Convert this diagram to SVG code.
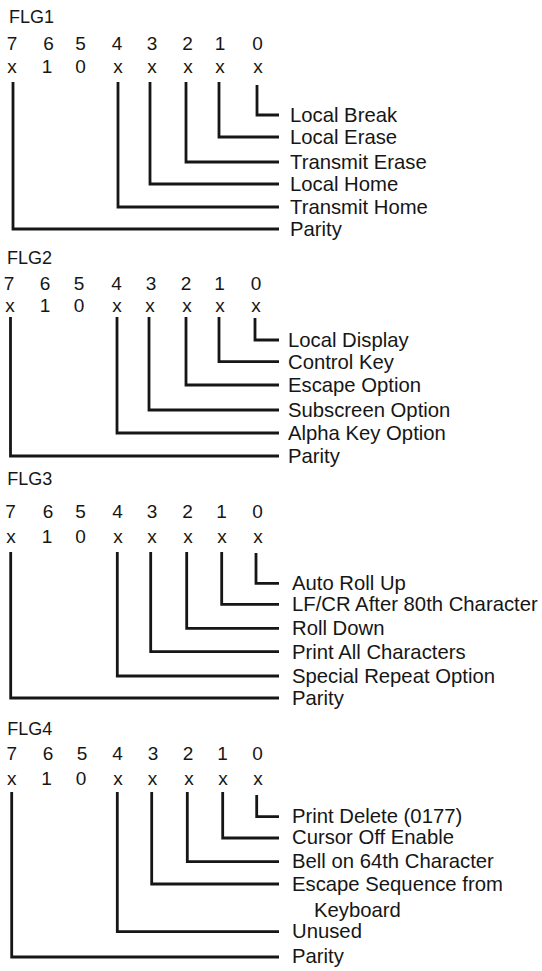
<svg xmlns="http://www.w3.org/2000/svg" width="542" height="971" viewBox="0 0 542 971">
<style>
text{font-family:"Liberation Sans",Arial,sans-serif;fill:#161616}
.t{font-size:18px}
.d{font-size:19px;text-anchor:middle}
.l{font-size:20.3px}
.c path{fill:none;stroke:#161616;stroke-width:2.8;stroke-linejoin:miter;stroke-linecap:butt}
</style>
<rect width="542" height="971" fill="#fff"/>

<g id="flg1">
<text class="t" x="9" y="23">FLG1</text>
<text class="d" y="50"><tspan x="12">7</tspan><tspan x="48.5">6</tspan><tspan x="80.5">5</tspan><tspan x="117">4</tspan><tspan x="152">3</tspan><tspan x="187.5">2</tspan><tspan x="220">1</tspan><tspan x="257.5">0</tspan></text>
<text class="d" y="73"><tspan x="12">x</tspan><tspan x="47">1</tspan><tspan x="80.5">0</tspan><tspan x="118">x</tspan><tspan x="152">x</tspan><tspan x="188">x</tspan><tspan x="220">x</tspan><tspan x="258">x</tspan></text>
</g>
<g id="flg1-labels">
<text class="l" x="290" y="121.5">Local Break</text>
<text class="l" x="290" y="143.5">Local Erase</text>
<text class="l" x="290" y="168.5">Transmit Erase</text>
<text class="l" x="290" y="190.5">Local Home</text>
<text class="l" x="290" y="213.5">Transmit Home</text>
<text class="l" x="290" y="235.5">Parity</text>
</g>

<g id="flg2">
<text class="t" x="7" y="263.5">FLG2</text>
<text class="d" y="290"><tspan x="9">7</tspan><tspan x="45">6</tspan><tspan x="79">5</tspan><tspan x="116.5">4</tspan><tspan x="151">3</tspan><tspan x="186">2</tspan><tspan x="219.5">1</tspan><tspan x="256">0</tspan></text>
<text class="d" y="312"><tspan x="10">x</tspan><tspan x="45">1</tspan><tspan x="79">0</tspan><tspan x="117">x</tspan><tspan x="150">x</tspan><tspan x="187">x</tspan><tspan x="220">x</tspan><tspan x="256">x</tspan></text>
</g>
<g id="flg2-labels">
<text class="l" x="288" y="346.5">Local Display</text>
<text class="l" x="288" y="368.5">Control Key</text>
<text class="l" x="288" y="391.5">Escape Option</text>
<text class="l" x="288" y="416.5">Subscreen Option</text>
<text class="l" x="288" y="439.5">Alpha Key Option</text>
<text class="l" x="288" y="462.5">Parity</text>
</g>

<g id="flg3">
<text class="t" x="7.3" y="485">FLG3</text>
<text class="d" y="518"><tspan x="10.5">7</tspan><tspan x="48">6</tspan><tspan x="80.5">5</tspan><tspan x="117.5">4</tspan><tspan x="152">3</tspan><tspan x="187.5">2</tspan><tspan x="221.5">1</tspan><tspan x="257.5">0</tspan></text>
<text class="d" y="543"><tspan x="11">x</tspan><tspan x="47">1</tspan><tspan x="80.5">0</tspan><tspan x="118">x</tspan><tspan x="152">x</tspan><tspan x="188">x</tspan><tspan x="222">x</tspan><tspan x="258">x</tspan></text>
</g>
<g id="flg3-labels">
<text class="l" x="292" y="590">Auto Roll Up</text>
<text class="l" x="292" y="611">LF/CR After 80th Character</text>
<text class="l" x="292" y="635">Roll Down</text>
<text class="l" x="292" y="658.5">Print All Characters</text>
<text class="l" x="292" y="682.5">Special Repeat Option</text>
<text class="l" x="292" y="704.5">Parity</text>
</g>

<g id="flg4">
<text class="t" x="7.3" y="735">FLG4</text>
<text class="d" y="760"><tspan x="11.7">7</tspan><tspan x="48">6</tspan><tspan x="82">5</tspan><tspan x="117.5">4</tspan><tspan x="153">3</tspan><tspan x="188">2</tspan><tspan x="222.5">1</tspan><tspan x="257.5">0</tspan></text>
<text class="d" y="785"><tspan x="11.7">x</tspan><tspan x="46.5">1</tspan><tspan x="81">0</tspan><tspan x="118">x</tspan><tspan x="152.5">x</tspan><tspan x="189">x</tspan><tspan x="223">x</tspan><tspan x="258">x</tspan></text>
</g>
<g id="flg4-labels">
<text class="l" x="292" y="822.5">Print Delete (0177)</text>
<text class="l" x="292" y="844">Cursor Off Enable</text>
<text class="l" x="292" y="868">Bell on 64th Character</text>
<text class="l" x="292" y="890.5">Escape Sequence from</text>
<text class="l" x="314" y="917">Keyboard</text>
<text class="l" x="292" y="938">Unused</text>
<text class="l" x="292" y="963">Parity</text>
</g>

<g id="connectors" class="c">
<path d="M257 85V115H279"/>
<path d="M219 82V137H279"/>
<path d="M186 82V162H279"/>
<path d="M150 82V184H279"/>
<path d="M118 82V207H279"/>
<path d="M13 82V229H279"/>

<path d="M255 318V340H279"/>
<path d="M219 317V361.7H279"/>
<path d="M186 317V385H279"/>
<path d="M149 317V410H279"/>
<path d="M117 317V433H279"/>
<path d="M10.5 317V456H279"/>

<path d="M256 553V583.3H279"/>
<path d="M221.7 552V604.3H279"/>
<path d="M186.7 552V628.3H279"/>
<path d="M150.7 552V651.7H279"/>
<path d="M117.3 552V676H279"/>
<path d="M10.7 552V698H279"/>

<path d="M256.7 795V816.7H279"/>
<path d="M222.7 792V838H279"/>
<path d="M187.3 792V861.7H279"/>
<path d="M151.7 792V884H279"/>
<path d="M117.3 792V931.7H279"/>
<path d="M11.7 792V957H279"/>
</g>
</svg>
